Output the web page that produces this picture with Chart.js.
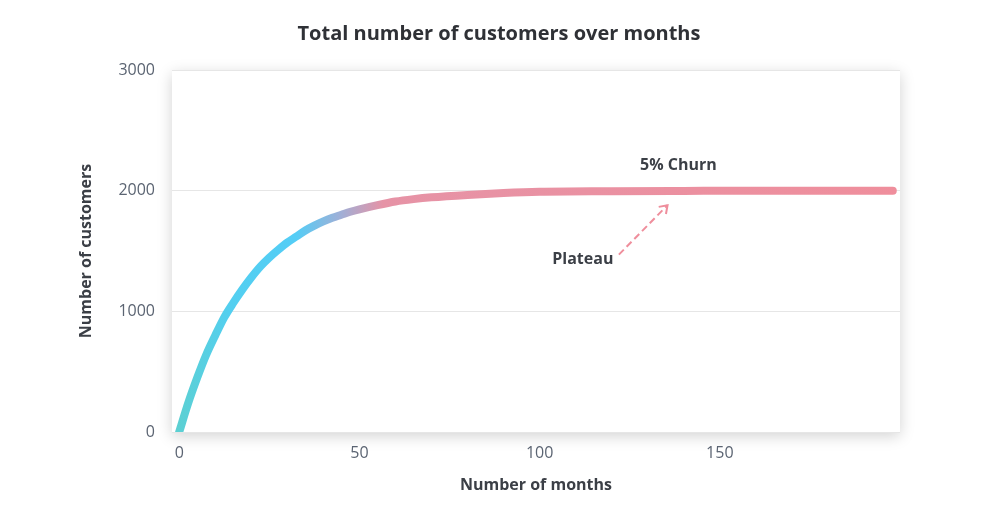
<!DOCTYPE html>
<html>
<head>
<meta charset="utf-8">
<title>Total number of customers over months</title>
<script src="https://cdn.jsdelivr.net/npm/chart.js@4"></script>
<style>
  html, body { margin: 0; padding: 0; background: #fff; }
  #wrap { width: 998px; height: 506px; }
</style>
</head>
<body>
<div id="wrap"><canvas id="churnChart" width="998" height="506"></canvas></div>
<script>
// ==================== DATA ====================
const months = [0, 2.5, 5, 7.5, 10, 12.5, 15, 17.5, 20, 22.5, 25, 27.5, 30, 32.5, 35, 37.5, 40, 42.5, 45, 47.5, 50, 55, 60, 65, 70, 80, 90, 100, 120, 140, 160, 180, 198];
const customers = [0, 240, 450, 640, 800, 950, 1070, 1180, 1280, 1370, 1445, 1510, 1570, 1620, 1670, 1710, 1745, 1775, 1800, 1825, 1845, 1880, 1910, 1930, 1945, 1965, 1980, 1990, 1995, 1998, 2000, 2000, 2000];
const xTicks = [0, 50, 100, 150];
const yTicks = [0, 1000, 2000, 3000];

// annotation labels (data coordinates)
const notes = [
  { text: '5% Churn', x: 138.5, y: 2205 },
  { text: 'Plateau', x: 112, y: 1430 }
];
const arrow = { from: { x: 122, y: 1470 }, to: { x: 135.5, y: 1880 } };

const FONT = "'Open Sans', 'Noto Sans', sans-serif";
const PINK = '#ef8e9c';

// ==================== PLUGINS ====================
const panelShadow = {
  id: 'panelShadow',
  beforeDraw(chart) {
    const { ctx, chartArea: a } = chart;
    ctx.save();
    ctx.fillStyle = '#fff';
    ctx.fillRect(0, 0, chart.width, chart.height);
    ctx.shadowColor = 'rgba(0,0,0,0.18)';
    ctx.shadowBlur = 14;
    ctx.shadowOffsetY = 4;
    ctx.fillRect(a.left, a.top, a.right - a.left, a.bottom - a.top);
    ctx.restore();
  }
};

const annotations = {
  id: 'annotations',
  afterDraw(chart) {
    const { ctx, scales: { x, y } } = chart;
    ctx.save();
    ctx.font = 'bold 16px ' + FONT;
    ctx.fillStyle = '#3b3f46';
    ctx.textAlign = 'center';
    ctx.textBaseline = 'middle';
    notes.forEach(n => ctx.fillText(n.text, x.getPixelForValue(n.x), y.getPixelForValue(n.y)));

    // dashed arrow
    const x1 = x.getPixelForValue(arrow.from.x), y1 = y.getPixelForValue(arrow.from.y);
    const x2 = x.getPixelForValue(arrow.to.x), y2 = y.getPixelForValue(arrow.to.y);
    ctx.strokeStyle = PINK;
    ctx.lineWidth = 2;
    ctx.setLineDash([7, 4]);
    ctx.beginPath();
    ctx.moveTo(x1, y1);
    ctx.lineTo(x2, y2);
    ctx.stroke();
    ctx.setLineDash([]);
    const ang = Math.atan2(y2 - y1, x2 - x1);
    const h = 9;
    ctx.beginPath();
    ctx.moveTo(x2 - h * Math.cos(ang - 0.6), y2 - h * Math.sin(ang - 0.6));
    ctx.lineTo(x2, y2);
    ctx.lineTo(x2 - h * Math.cos(ang + 0.6), y2 - h * Math.sin(ang + 0.6));
    ctx.stroke();
    ctx.restore();
  }
};

// ==================== CHART ====================
function lineGradient(ctx) {
  const a = ctx.chart.chartArea;
  if (!a) return PINK;
  const g = ctx.chart.ctx.createLinearGradient(a.left, 0, a.right, 0);
  g.addColorStop(0, '#5dd0cf');
  g.addColorStop(0.08, '#53cff0');
  g.addColorStop(0.17, '#54cdf6');
  g.addColorStop(0.23, '#9eb0d8');
  g.addColorStop(0.29, '#e693a6');
  g.addColorStop(1, PINK);
  return g;
}

new Chart(document.getElementById('churnChart'), {
  type: 'line',
  data: {
    datasets: [{
      data: months.map((m, i) => ({ x: m, y: customers[i] })),
      borderColor: lineGradient,
      borderWidth: 8,
      borderCapStyle: 'round',
      borderJoinStyle: 'round',
      pointRadius: 0,
      cubicInterpolationMode: 'monotone',
      fill: false
    }]
  },
  options: {
    responsive: false,
    animation: false,
    layout: { padding: { top: 0, left: 0, right: 0, bottom: 6 } },
    plugins: {
      legend: { display: false },
      tooltip: { enabled: false },
      title: {
        display: true,
        text: 'Total number of customers over months',
        color: '#2f3136',
        font: { family: FONT, size: 20, weight: 'bold' },
        padding: { top: 22, bottom: 24 }
      }
    },
    scales: {
      x: {
        type: 'linear',
        min: -2,
        max: 200,
        afterBuildTicks: s => { s.ticks = xTicks.map(v => ({ value: v })); },
        afterFit: s => { s.height = 68; },
        grid: { display: false, drawTicks: false },
        border: { display: false },
        ticks: { color: '#5b6472', font: { family: FONT, size: 16 }, padding: 12, callback: v => String(v) },
        title: {
          display: true,
          text: 'Number of months',
          color: '#3b3f46',
          font: { family: FONT, size: 16, weight: 'bold' },
          padding: { top: 4, bottom: 5 }
        }
      },
      y: {
        min: 0,
        max: 3000,
        afterBuildTicks: s => { s.ticks = yTicks.map(v => ({ value: v })); },
        afterFit: s => { s.width = 172; },
        grid: { color: '#e6e6e6', lineWidth: 1, drawTicks: false },
        border: { display: false },
        ticks: { color: '#5b6472', font: { family: FONT, size: 16 }, padding: 17, callback: v => String(v) },
        title: {
          display: true,
          text: 'Number of customers',
          color: '#3b3f46',
          font: { family: FONT, size: 16, weight: 'bold' },
          padding: { top: 77, bottom: 0 }
        }
      },
      // empty right margin
      yRight: {
        position: 'right',
        afterFit: s => { s.width = 98; },
        grid: { display: false, drawTicks: false },
        border: { display: false },
        ticks: { display: false }
      }
    }
  },
  plugins: [panelShadow, annotations]
});
</script>
</body>
</html>
